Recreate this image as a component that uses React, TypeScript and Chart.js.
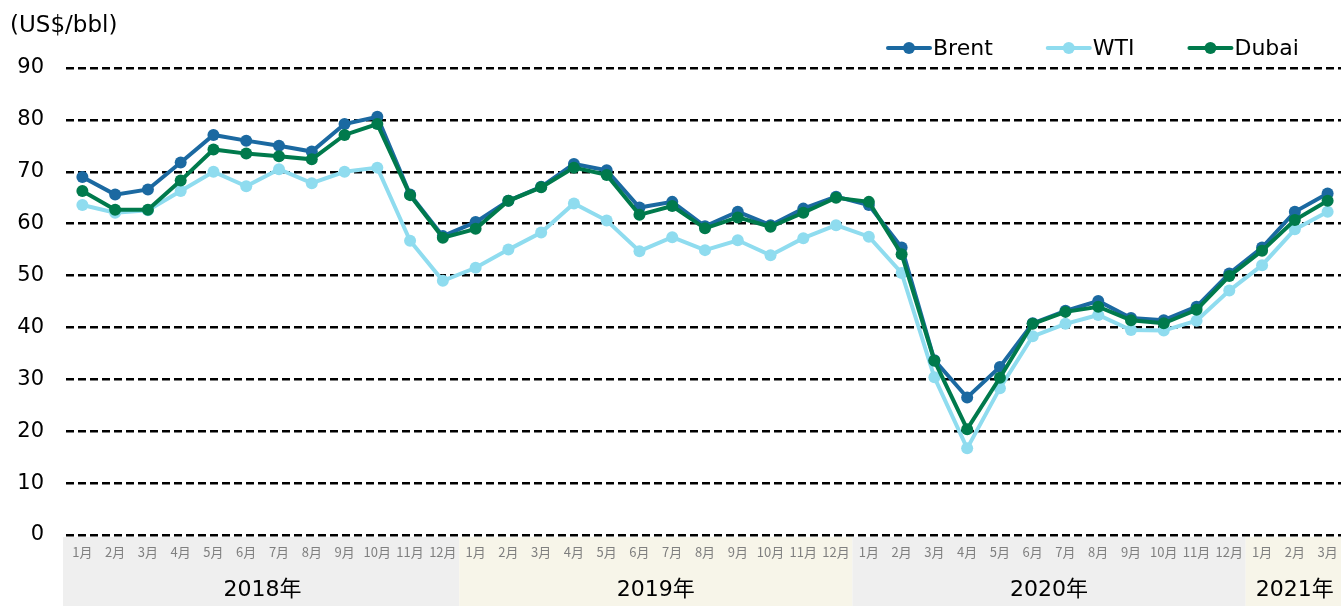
import React, { useEffect, useRef } from "react";
import { Chart, registerables } from "chart.js";

Chart.register(...registerables);

const MONTH_LABELS = [
  "1月", "2月", "3月", "4月", "5月", "6月", "7月", "8月", "9月", "10月", "11月", "12月",
  "1月", "2月", "3月", "4月", "5月", "6月", "7月", "8月", "9月", "10月", "11月", "12月",
  "1月", "2月", "3月", "4月", "5月", "6月", "7月", "8月", "9月", "10月", "11月", "12月",
  "1月", "2月", "3月",
];
const YEAR_LABELS = ["2018年", "2019年", "2020年", "2021年"];
const YEAR_MONTH_COUNTS = [12, 12, 12, 3];

const BRENT = [
  69.0, 65.6, 66.6, 71.8, 77.1, 76.0, 75.0, 73.9, 79.2, 80.6, 65.6, 57.6,
  60.3, 64.4, 67.1, 71.5, 70.3, 63.1, 64.2, 59.5, 62.3, 59.7, 62.9, 65.2,
  63.6, 55.4, 33.7, 26.5, 32.4, 40.8, 43.2, 45.1, 41.8, 41.4, 44.0, 50.4,
  55.4, 62.3, 65.8,
];
const WTI = [
  63.6, 62.1, 62.6, 66.3, 70.0, 67.2, 70.5, 67.8, 70.0, 70.8, 56.7, 49.0,
  51.5, 55.0, 58.3, 63.9, 60.6, 54.7, 57.4, 54.9, 56.8, 53.9, 57.2, 59.7,
  57.5, 50.5, 30.4, 16.7, 28.3, 38.3, 40.7, 42.4, 39.5, 39.4, 41.3, 47.1,
  52.0, 58.9, 62.3,
];
const DUBAI = [
  66.3, 62.7, 62.7, 68.3, 74.3, 73.5, 73.0, 72.4, 77.1, 79.2, 65.5, 57.3,
  59.0, 64.4, 67.0, 70.8, 69.4, 61.7, 63.4, 59.1, 61.2, 59.4, 62.1, 65.0,
  64.2, 54.1, 33.6, 20.4, 30.3, 40.7, 43.0, 44.0, 41.4, 40.8, 43.4, 49.9,
  54.8, 60.7, 64.4,
];

const SERIES_NAMES = ["Brent", "WTI", "Dubai"];
const SERIES_COLORS = ["#1b69a1", "#8fdcef", "#007a4c"];
const UNIT_LABEL = "(US$/bbl)";

const FONT_MAIN = '"DejaVu Sans", "Noto Sans CJK JP", sans-serif';
const FONT_CJK = '"Noto Sans CJK JP", "DejaVu Sans", sans-serif';
const BAND_COLORS = ["#efefef", "#f7f5e9"];

const decorPlugin = {
  id: "decor",
  beforeDraw(chart: any) {
    const { ctx, scales, chartArea } = chart;
    const x = scales.x;
    const step = x.getPixelForValue(1) - x.getPixelForValue(0);
    const top = chartArea.bottom + 2;
    const bottom = chart.height;
    let idx = 0;
    ctx.save();
    YEAR_LABELS.forEach((yr, k) => {
      const n = YEAR_MONTH_COUNTS[k];
      const left = x.getPixelForValue(idx) - step / 2 - (k === 0 ? 3 : 0);
      const right = x.getPixelForValue(idx + n - 1) + step / 2;
      ctx.fillStyle = BAND_COLORS[k % 2];
      ctx.fillRect(left, top, right - left, bottom - top);
      ctx.fillStyle = "#000000";
      ctx.font = `22px ${FONT_MAIN}`;
      ctx.textAlign = "center";
      ctx.textBaseline = "middle";
      ctx.fillText(yr, (left + right) / 2 + (k === 0 ? 1.5 : 0), 590);
      idx += n;
    });
    ctx.restore();
  },
  afterDraw(chart: any) {
    const { ctx } = chart;
    ctx.save();
    ctx.fillStyle = "#000000";
    ctx.font = `23px ${FONT_MAIN}`;
    ctx.textAlign = "left";
    ctx.textBaseline = "middle";
    ctx.fillText(UNIT_LABEL, 10, 26);
    let lx = 888;
    const ly = 48;
    chart.data.datasets.forEach((ds: any, i: number) => {
      const name = SERIES_NAMES[i];
      const color = SERIES_COLORS[i];
      ctx.strokeStyle = color;
      ctx.lineWidth = 4;
      ctx.lineCap = "round";
      ctx.beginPath();
      ctx.moveTo(lx, ly);
      ctx.lineTo(lx + 42, ly);
      ctx.stroke();
      ctx.fillStyle = color;
      ctx.beginPath();
      ctx.arc(lx + 21, ly, 6, 0, Math.PI * 2);
      ctx.fill();
      ctx.fillStyle = "#000000";
      ctx.font = `22px ${FONT_MAIN}`;
      ctx.textAlign = "left";
      ctx.textBaseline = "middle";
      ctx.fillText(name, lx + 45, ly + 1);
      const tw = ctx.measureText(name).width;
      lx += 45 + tw + 55;
    });
    ctx.restore();
  },
};

export default function App() {
  const canvasRef = useRef<HTMLCanvasElement | null>(null);

  useEffect(() => {
    document.body.style.margin = "0";
    document.body.style.overflow = "hidden";
    const canvas = canvasRef.current;
    if (!canvas) return;
    const datasets = [BRENT, WTI, DUBAI].map((vals, i) => ({
      label: SERIES_NAMES[i],
      data: vals,
      borderColor: SERIES_COLORS[i],
      backgroundColor: SERIES_COLORS[i],
      pointBackgroundColor: SERIES_COLORS[i],
      pointBorderWidth: 0,
      pointRadius: 6,
      borderWidth: 4,
      tension: 0,
      order: i === 2 ? 0 : i === 0 ? 1 : 2,
    }));
    const chart = new Chart(canvas, {
      type: "line",
      data: { labels: MONTH_LABELS, datasets },
      options: {
        responsive: false,
        animation: false,
        events: [],
        layout: { padding: { top: 68, right: 1, bottom: 0, left: 0 } },
        plugins: {
          legend: { display: false },
          tooltip: { enabled: false },
          title: { display: false },
        },
        scales: {
          x: {
            type: "category",
            offset: true,
            grid: { display: false, drawTicks: false },
            border: { display: false },
            ticks: {
              autoSkip: false,
              maxRotation: 0,
              minRotation: 0,
              padding: 9,
              color: "#7f7f7f",
              font: { family: FONT_CJK, size: 13 },
            },
            afterFit(scale: any) {
              scale.height = 71;
            },
          },
          y: {
            min: 0,
            max: 90,
            grid: {
              color: "#000000",
              lineWidth: 2.5,
              drawTicks: false,
            },
            border: { display: false, dash: [8, 4] },
            ticks: {
              stepSize: 10,
              padding: 22,
              color: "#000000",
              font: { family: FONT_MAIN, size: 21 },
            },
            afterFit(scale: any) {
              scale.width = 66;
            },
          },
        },
      },
      plugins: [decorPlugin],
    });
    return () => chart.destroy();
  }, []);

  return (
    <div style={{ width: 1350, height: 606, position: "relative" }}>
      <canvas
        ref={canvasRef}
        width={1350}
        height={606}
        style={{ display: "block", width: 1350, height: 606 }}
      />
    </div>
  );
}
